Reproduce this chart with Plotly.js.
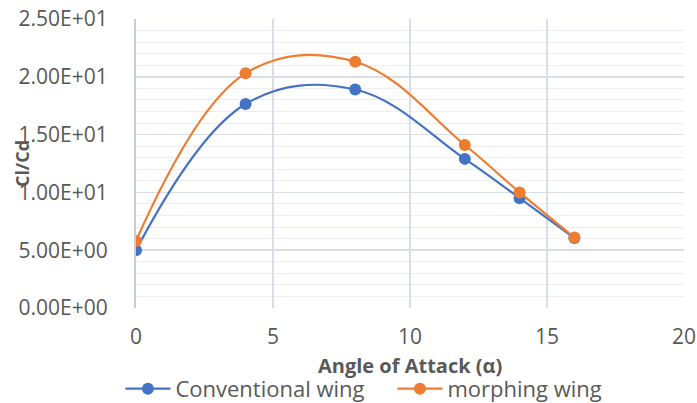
<!DOCTYPE html>
<html>
<head>
<meta charset="utf-8">
<script src="https://cdn.plot.ly/plotly-3.0.1.min.js"></script>
<style>html,body{margin:0;padding:0;background:#fff;}</style>
</head>
<body>
<div id="chart" style="width:697px;height:403px;"></div>
<script>
var angles = [0, 4, 8, 12, 14, 16];
var conventional = [5.0, 17.65, 18.9, 12.9, 9.5, 6.05];
var morphing = [5.8, 20.3, 21.3, 14.1, 10.0, 6.1];
var yTickValues = [0, 5, 10, 15, 20, 25];
var yTickLabels = ["0.00E+00", "5.00E+00", "1.00E+01", "1.50E+01", "2.00E+01", "2.50E+01"];
var xTickValues = [0, 5, 10, 15, 20];
var seriesNames = ["Conventional wing", "morphing wing"];

var font = "Open Sans, Noto Sans, sans-serif";
var traces = [
  {x: angles, y: conventional, name: seriesNames[0], type: "scatter", mode: "lines+markers",
   line: {color: "#4472C4", width: 2.2, shape: "spline", smoothing: 1.1},
   marker: {color: "#4472C4", size: 12}},
  {x: angles, y: morphing, name: seriesNames[1], type: "scatter", mode: "lines+markers",
   line: {color: "#ED7D31", width: 2.2, shape: "spline", smoothing: 1.1},
   marker: {color: "#ED7D31", size: 12}}
];
var layout = {
  width: 697, height: 403,
  margin: {l: 136, r: 13, t: 19, b: 95, autoexpand: false},
  paper_bgcolor: "#fff", plot_bgcolor: "#fff",
  font: {family: font, color: "#595959", size: 21},
  showlegend: true,
  legend: {orientation: "h", xref: "container", yref: "paper", x: 0.563, xanchor: "center",
           y: -0.28, yanchor: "middle", entrywidth: 212, entrywidthmode: "pixels",
           font: {family: font, size: 22, color: "#595959"}, itemwidth: 45, tracegroupgap: 0},
  xaxis: {range: [0, 20], tickvals: xTickValues, showgrid: true, gridcolor: "#d9dde6", gridwidth: 1.5,
          zeroline: false, showline: false, ticks: "", ticklabelstandoff: 14,
          tickfont: {family: font, size: 21, color: "#595959"}},
  yaxis: {range: [0, 25], tickvals: yTickValues, ticktext: yTickLabels, showgrid: true,
          gridcolor: "#d9dde6", gridwidth: 1.5, zeroline: false,
          showline: true, linecolor: "#c9cdd6", linewidth: 2, ticks: "", ticklabelstandoff: 22,
          minor: {dtick: 1, showgrid: true, gridcolor: "#eceef3", gridwidth: 1},
          tickfont: {family: font, size: 21, color: "#595959"}},
  annotations: [
    {text: "<b>Angle of Attack (α)</b>", xref: "paper", yref: "paper", x: 0.5, y: -0.2,
     xanchor: "center", yanchor: "middle", showarrow: false,
     font: {family: font, size: 20, color: "#595959"}},
    {text: "<b>Cl/Cd</b>", xref: "paper", yref: "paper", x: -0.208, y: 0.498,
     xanchor: "center", yanchor: "middle", showarrow: false, textangle: -90,
     font: {family: font, size: 18, color: "#595959"}}
  ]
};
Plotly.newPlot("chart", traces, layout, {displayModeBar: false, staticPlot: true});
</script>
</body>
</html>
